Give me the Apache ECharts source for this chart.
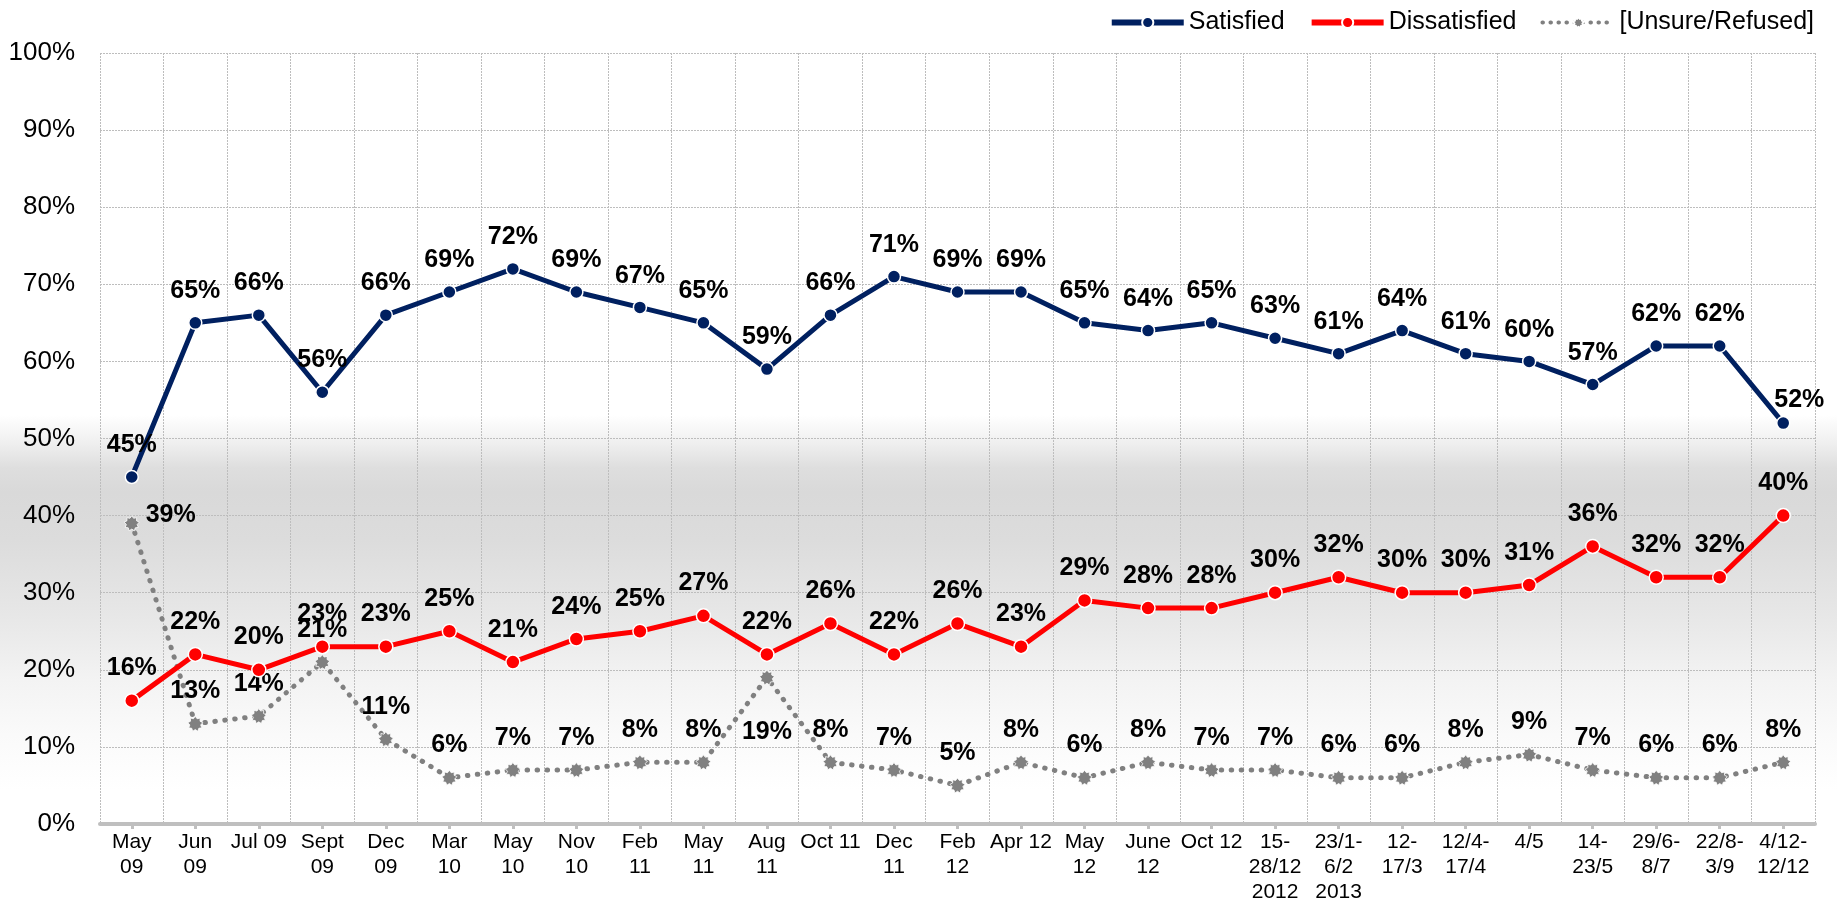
<!DOCTYPE html>
<html>
<head>
<meta charset="utf-8">
<title>Satisfaction trend</title>
<script src="https://cdn.jsdelivr.net/npm/echarts@6/dist/echarts.min.js"></script>
<style>
  html, body { margin: 0; padding: 0; }
  #chart {
    width: 1837px; height: 905px;
    /* soft grey band behind the lower half of the chart */
    background: linear-gradient(to bottom,
      #ffffff 0px, #ffffff 415px, #f0f0f0 442px, #dedede 468px, #d9d9d9 492px,
      #dcdcdc 540px, #e7e7e7 615px, #f3f3f3 680px, #fafafa 735px, #ffffff 790px, #ffffff 905px);
  }
</style>
</head>
<body>
<div id="chart"></div>
<script>
const categories = ['May\n09', 'Jun\n09', 'Jul 09', 'Sept\n09', 'Dec\n09', 'Mar\n10', 'May\n10', 'Nov\n10',
  'Feb\n11', 'May\n11', 'Aug\n11', 'Oct 11', 'Dec\n11', 'Feb\n12', 'Apr 12', 'May\n12', 'June\n12',
  'Oct 12', '15-\n28/12\n2012', '23/1-\n6/2\n2013', '12-\n17/3', '12/4-\n17/4', '4/5', '14-\n23/5',
  '29/6-\n8/7', '22/8-\n3/9', '4/12-\n12/12'];

const satisfied = [45, 65, 66, 56, 66, 69, 72, 69, 67, 65, 59, 66, 71, 69, 69, 65, 64, 65, 63, 61, 64, 61, 60, 57, 62, 62, 52];
const dissatisfied = [16, 22, 20, 23, 23, 25, 21, 24, 25, 27, 22, 26, 22, 26, 23, 29, 28, 28, 30, 32, 30, 30, 31, 36, 32, 32, 40];
const unsure = [39, 13, 14, 21, 11, 6, 7, 7, 8, 8, 19, 8, 7, 5, 8, 6, 8, 7, 7, 6, 6, 8, 9, 7, 6, 6, 8];

const yTicks = { min: 0, max: 100, interval: 10 };

const FONT = "'Liberation Sans', Arial, sans-serif";

// gear-like star marker for the unsure series
function starPath(points, inner) {
  let d = '';
  for (let i = 0; i < points * 2; i++) {
    const r = i % 2 === 0 ? 1 : inner;
    const a = (Math.PI * i) / points - Math.PI / 2;
    const x = (r * Math.cos(a)).toFixed(3);
    const y = (r * Math.sin(a)).toFixed(3);
    d += (i === 0 ? 'M' : 'L') + x + ' ' + y + ' ';
  }
  return 'path://' + d + 'Z';
}

// label placement tweaks for crowded points
const labelTweaks = {
  satisfied: { 26: { offset: [16, 9] } },
  dissatisfied: {},
  unsure: { 0: { position: 'right', distance: 6, offset: [0, -8] }, 10: { position: 'bottom', distance: 34 } }
};

function withLabels(values, tweaks) {
  return values.map((v, i) => tweaks[i] ? { value: v, label: tweaks[i] } : v);
}

const dataLabel = {
  show: true,
  position: 'top',
  distance: 12,
  formatter: '{c}%',
  fontFamily: FONT,
  fontWeight: 'bold',
  fontSize: 25,
  color: '#000'
};

const chart = echarts.init(document.getElementById('chart'), null, { renderer: 'canvas' });

chart.setOption({
  backgroundColor: 'transparent',
  animation: false,
  textStyle: { fontFamily: FONT },
  legend: {
    data: [
      { name: 'Satisfied' },
      { name: 'Dissatisfied' },
      { name: '[Unsure/Refused]', lineStyle: { width: 4, type: [0.5, 7.5], cap: 'round' } }
    ],
    right: 18,
    top: 5,
    itemWidth: 72,
    itemHeight: 14,
    itemGap: 24,
    lineStyle: { width: 6 },
    textStyle: { fontFamily: FONT, fontSize: 25, color: '#000' }
  },
  grid: { left: 100, right: 22, top: 53, bottom: 77, containLabel: false },
  xAxis: {
    type: 'category',
    data: categories,
    boundaryGap: true,
    axisLine: { show: true, lineStyle: { color: '#bfbfbf', width: 4 } },
    axisTick: { show: true, alignWithLabel: true, length: 5, lineStyle: { color: '#bfbfbf', width: 3 } },
    axisLabel: {
      interval: 0, margin: 6, fontFamily: FONT, fontSize: 21, lineHeight: 25, color: '#000'
    },
    splitLine: { show: true, lineStyle: { color: '#bdbdbd', width: 1, type: [2, 1] } }
  },
  yAxis: {
    type: 'value',
    min: yTicks.min,
    max: yTicks.max,
    interval: yTicks.interval,
    axisLine: { show: false },
    axisTick: { show: false },
    axisLabel: { formatter: '{value}%', margin: 25, fontFamily: FONT, fontSize: 26, color: '#000' },
    splitLine: { show: true, lineStyle: { color: '#bdbdbd', width: 1, type: [2, 1] } }
  },
  series: [
    {
      name: 'Satisfied',
      type: 'line',
      data: withLabels(satisfied, labelTweaks.satisfied),
      symbol: 'circle',
      symbolSize: 13,
      itemStyle: { color: '#002060', borderColor: '#ffffff', borderWidth: 1.5 },
      lineStyle: { color: '#002060', width: 5 },
      label: dataLabel,
      z: 4
    },
    {
      name: 'Dissatisfied',
      type: 'line',
      data: withLabels(dissatisfied, labelTweaks.dissatisfied),
      symbol: 'circle',
      symbolSize: 14,
      itemStyle: { color: '#ff0000', borderColor: '#ffffff', borderWidth: 1.5 },
      lineStyle: { color: '#ff0000', width: 5 },
      label: dataLabel,
      z: 3
    },
    {
      name: '[Unsure/Refused]',
      type: 'line',
      data: withLabels(unsure, labelTweaks.unsure),
      symbol: starPath(9, 0.72),
      symbolSize: 15,
      itemStyle: { color: '#808080', borderColor: '#ffffff', borderWidth: 0.8 },
      lineStyle: { color: '#808080', width: 5, type: [0.5, 9.5], cap: 'round' },
      label: dataLabel,
      z: 2
    }
  ]
});
</script>
</body>
</html>
